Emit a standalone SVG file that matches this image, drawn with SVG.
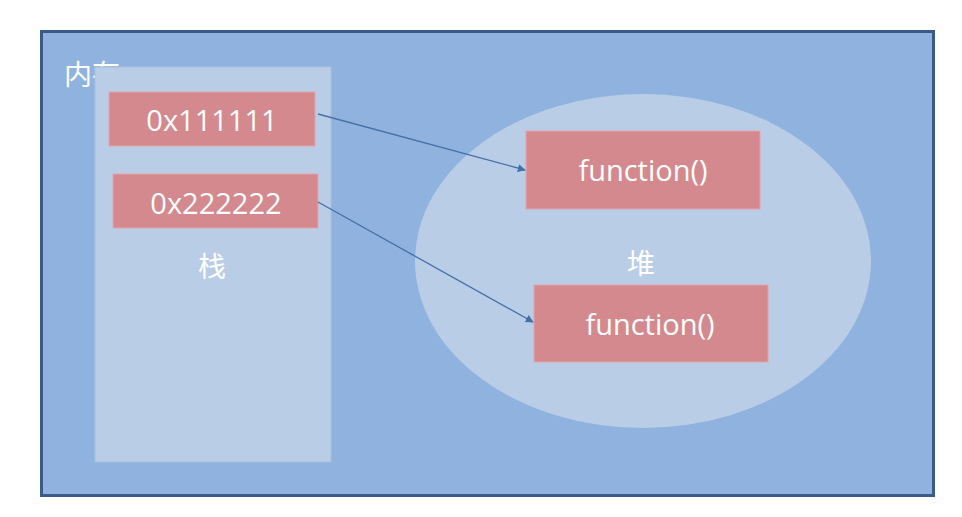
<svg xmlns="http://www.w3.org/2000/svg" width="962" height="517" viewBox="0 0 962 517">
<defs>
<style>
.t{font-family:"Open Sans","Noto Sans","Noto Sans CJK SC",sans-serif;fill:#ffffff;font-size:29px;text-anchor:middle;dominant-baseline:central}
.cjk{font-family:"Noto Sans CJK SC",sans-serif;font-size:28px}
.start{text-anchor:start}
.box{fill:#D4898E;stroke:#E3A5A9;stroke-width:1}
.conn{stroke:#4470A8;stroke-width:1.3;fill:none;marker-end:url(#ah)}
</style>
<marker id="ah" viewBox="0 0 10 10" refX="9" refY="5" markerWidth="8" markerHeight="8" markerUnits="userSpaceOnUse" orient="auto">
<path d="M0,0 L10,5 L0,10 z" fill="#4470A8"/>
</marker>
</defs>
<rect width="962" height="517" fill="#ffffff"/>
<g id="memory">
<rect x="41.5" y="31.5" width="892" height="464" fill="#8FB3DE" stroke="#3B5A8A" stroke-width="3"/>
<text class="t cjk start" x="64" y="73">内存</text>
</g>
<g id="stack">
<rect x="95" y="67" width="236" height="395" fill="#BACDE6" stroke="#A9C0E0" stroke-width="1"/>
<text class="t cjk" x="212" y="265">栈</text>
</g>
<g id="heap">
<ellipse cx="643" cy="261" rx="228" ry="167" fill="#BACDE6"/>
<text class="t cjk" x="641" y="262">堆</text>
</g>
<g id="addr1">
<rect class="box" x="109" y="92" width="206" height="54"/>
<text class="t" x="212" y="119">0x111111</text>
</g>
<g id="addr2">
<rect class="box" x="113" y="174" width="205" height="54"/>
<text class="t" x="216" y="202">0x222222</text>
</g>
<g id="func1">
<rect class="box" x="526" y="131" width="234" height="78"/>
<text class="t" x="643" y="169">function()</text>
</g>
<g id="func2">
<rect class="box" x="534" y="285" width="234" height="77"/>
<text class="t" x="650" y="323">function()</text>
</g>
<g id="connectors">
<line class="conn" x1="318" y1="114" x2="525" y2="170"/>
<line class="conn" x1="318" y1="202" x2="533" y2="322"/>
</g>
</svg>
